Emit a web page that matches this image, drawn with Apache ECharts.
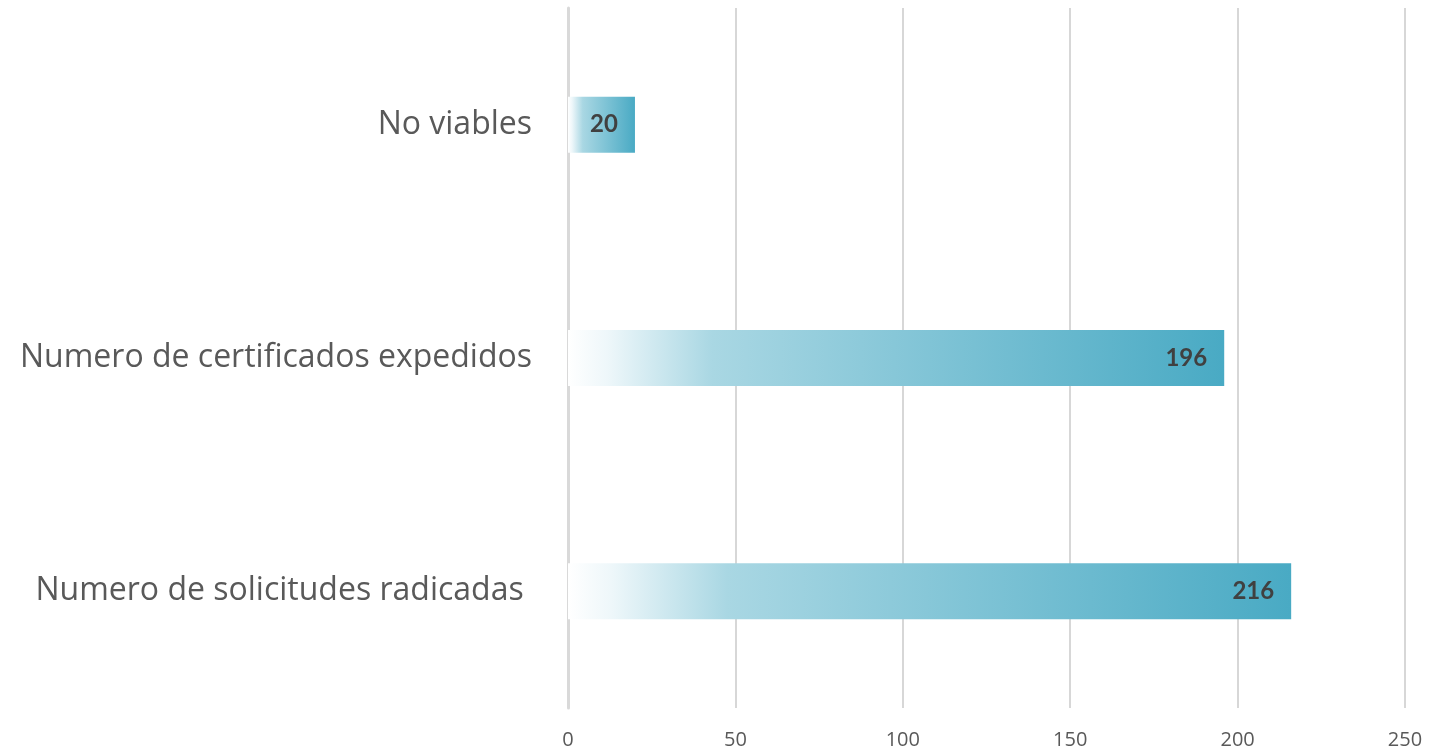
<!DOCTYPE html>
<html><head><meta charset="utf-8">
<script src="https://cdn.jsdelivr.net/npm/echarts@6/dist/echarts.min.js"></script>
<style>html,body{margin:0;padding:0;background:#fff}#c{width:1429px;height:752px}</style>
</head><body><div id="c"></div>
<script>
const categories = ['Numero de solicitudes radicadas ', 'Numero de certificados expedidos', 'No viables'];
const values = [216, 196, 20];
const xTicks = [0, 50, 100, 150, 200, 250];

const chart = echarts.init(document.getElementById('c'));
const grad = new echarts.graphic.LinearGradient(0, 0, 1, 0, [
  {offset: 0, color: '#ffffff'},
  {offset: 0.06, color: '#eef7fa'},
  {offset: 0.22, color: '#a9d7e3'},
  {offset: 1, color: '#49aac4'}
]);
chart.setOption({
  animation: false,
  grid: {left: 568, right: 24, top: 8, bottom: 44, containLabel: false},
  xAxis: {
    type: 'value', min: xTicks[0], max: xTicks[xTicks.length-1], interval: 50,
    axisLine: {show: false}, axisTick: {show: false},
    splitLine: {show: true, lineStyle: {color: '#cacaca', width: 1.5}},
    axisLabel: {color: '#595959', fontSize: 20, fontFamily: '"Open Sans", sans-serif', margin: 22}
  },
  yAxis: {
    type: 'category', data: categories,
    axisLine: {show: true, lineStyle: {color: '#d9d9d9', width: 3}},
    axisTick: {show: false},
    axisLabel: {color: '#595959', fontSize: 32, fontFamily: '"Open Sans", sans-serif', margin: 36}
  },
  series: [{
    type: 'bar', data: values, barWidth: 56,
    itemStyle: {color: grad},
    label: {show: true, position: 'insideRight', color: '#404040', fontSize: 24, fontWeight: 'bold',
      fontFamily: 'Lato, "Open Sans", sans-serif', offset: [-12, 0]}
  }]
});
</script></body></html>
